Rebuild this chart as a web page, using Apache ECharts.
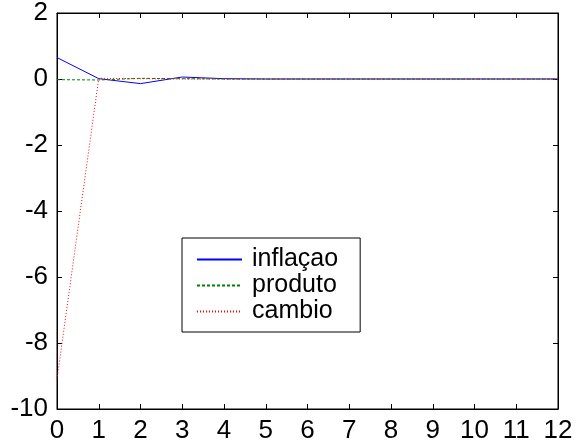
<!DOCTYPE html>
<html><head><meta charset="utf-8">
<script src="https://cdn.jsdelivr.net/npm/echarts@6/dist/echarts.min.js"></script>
<style>html,body{margin:0;padding:0;background:#fff}#c{width:577px;height:448px}</style>
</head><body><div id="c"></div>
<script>
const periods = [0,1,2,3,4,5,6,7,8,9,10,11,12];
const inflacao = [0.65,0.01,-0.14,0.06,0.01,0,0,0,0,0,0,0,0];
const produto = [-0.02,-0.03,0.02,0.01,0,0,0,0,0,0,0,0,0];
const cambio = [-9.1,0.02,0.01,0,0,0,0,0,0,0,0,0,0];
const yTicks = [-10,-8,-6,-4,-2,0,2];

const font = 'Liberation Sans, Arial, sans-serif';
const chart = echarts.init(document.getElementById('c'));
const pair = (arr) => periods.map((p,i)=>[p,arr[i]]);
const tick = () => ({show:true, inside:true, length:5, lineStyle:{color:'#000',width:1}});
chart.setOption({
  animation:false,
  grid:{left:57,right:19,top:13,bottom:39,show:true,borderColor:'#000',borderWidth:1},
  xAxis:[{type:'value',min:0,max:12,interval:1,
    axisLine:{show:true,onZero:false,lineStyle:{color:'#000'}},
    axisTick:tick(), splitLine:{show:false},
    axisLabel:{color:'#000',fontSize:26,fontFamily:font,margin:9}},
    {type:'value',position:'top',min:0,max:12,interval:1,
    axisLine:{show:true,onZero:false,lineStyle:{color:'#000'}},axisTick:tick(),axisLabel:{show:false},splitLine:{show:false}}],
  yAxis:[{type:'value',min:-10,max:2,interval:2,
    axisLine:{show:true,onZero:false,lineStyle:{color:'#000'}},
    axisTick:tick(), splitLine:{show:false},
    axisLabel:{color:'#000',fontSize:26,fontFamily:font,margin:9,
      formatter:(v)=>yTicks.includes(v)?String(v):''}},
    {type:'value',position:'right',min:-10,max:2,interval:2,
    axisLine:{show:true,onZero:false,lineStyle:{color:'#000'}},axisTick:tick(),axisLabel:{show:false},splitLine:{show:false}}],
  legend:{orient:'vertical',left:182,top:238,
    backgroundColor:'#fff',borderColor:'#000',borderWidth:1,
    padding:[9,22,8,14],itemGap:1,itemWidth:45,itemHeight:14,
    itemStyle:{opacity:0},
    textStyle:{fontSize:25,fontFamily:font,color:'#000',padding:[0,0,0,5]},
    data:['inflaçao','produto','cambio']},
  series:[
    {name:'inflaçao',type:'line',data:pair(inflacao),symbol:'none',
      lineStyle:{color:'#0000ff',width:1},itemStyle:{color:'#0000ff'}},
    {name:'produto',type:'line',data:pair(produto),symbol:'none',
      lineStyle:{color:'#008000',width:1,type:[3,2]},itemStyle:{color:'#008000'}},
    {name:'cambio',type:'line',data:pair(cambio),symbol:'none',
      lineStyle:{color:'#ff0000',width:1,type:[1,2]},itemStyle:{color:'#ff0000'}}
  ]
});
</script></body></html>
